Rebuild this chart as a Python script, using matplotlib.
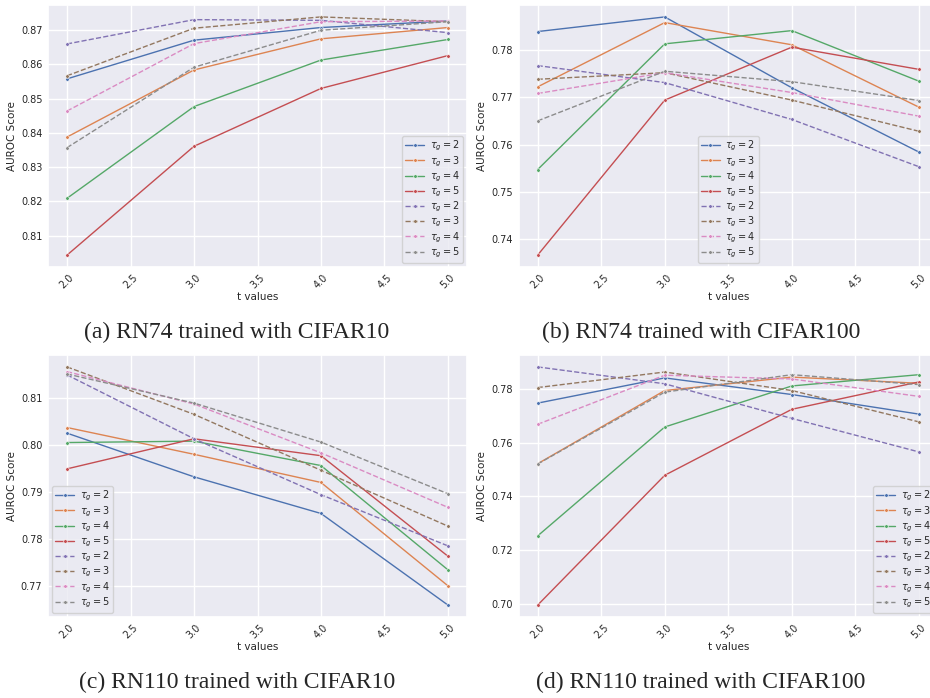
import matplotlib
matplotlib.use('Agg')
import matplotlib.pyplot as plt
import seaborn as sns

sns.set_theme(style='darkgrid')
plt.rcParams['font.family'] = ['DejaVu Sans']

t_values = [2.0, 3.0, 4.0, 5.0]
tau_labels = [r'$\tau_g = 2$', r'$\tau_g = 3$', r'$\tau_g = 4$', r'$\tau_g = 5$']

# (a) RN74 / CIFAR10
rn74_c10_solid = [
    [0.8558, 0.8671, 0.8708, 0.8727],
    [0.8388, 0.8584, 0.8675, 0.8708],
    [0.8209, 0.8477, 0.8613, 0.8673],
    [0.8043, 0.8361, 0.8530, 0.8626],
]
rn74_c10_dashed = [
    [0.8660, 0.8731, 0.8729, 0.8693],
    [0.8567, 0.8706, 0.8739, 0.8725],
    [0.8464, 0.8661, 0.8725, 0.8727],
    [0.8357, 0.8592, 0.8700, 0.8725],
]

# (b) RN74 / CIFAR100
rn74_c100_solid = [
    [0.7839, 0.7870, 0.7720, 0.7584],
    [0.7722, 0.7858, 0.7811, 0.7679],
    [0.7547, 0.7813, 0.7841, 0.7734],
    [0.7366, 0.7694, 0.7806, 0.7759],
]
rn74_c100_dashed = [
    [0.7767, 0.7731, 0.7653, 0.7553],
    [0.7738, 0.7752, 0.7694, 0.7628],
    [0.7708, 0.7752, 0.7710, 0.7660],
    [0.7650, 0.7755, 0.7733, 0.7693],
]

# (c) RN110 / CIFAR10
rn110_c10_solid = [
    [0.8025, 0.7932, 0.7854, 0.7659],
    [0.8037, 0.7980, 0.7920, 0.7700],
    [0.8005, 0.8008, 0.7956, 0.7734],
    [0.7949, 0.8013, 0.7977, 0.7763],
]
rn110_c10_dashed = [
    [0.8149, 0.8013, 0.7894, 0.7785],
    [0.8166, 0.8065, 0.7946, 0.7827],
    [0.8156, 0.8087, 0.7983, 0.7867],
    [0.8151, 0.8089, 0.8006, 0.7896],
]

# (d) RN110 / CIFAR100
rn110_c100_solid = [
    [0.7748, 0.7842, 0.7780, 0.7707],
    [0.7522, 0.7795, 0.7845, 0.7822],
    [0.7253, 0.7659, 0.7812, 0.7854],
    [0.6995, 0.7479, 0.7725, 0.7827],
]
rn110_c100_dashed = [
    [0.7883, 0.7820, 0.7691, 0.7566],
    [0.7806, 0.7864, 0.7795, 0.7678],
    [0.7669, 0.7852, 0.7838, 0.7773],
    [0.7521, 0.7789, 0.7854, 0.7817],
]

captions = [
    '(a) RN74 trained with CIFAR10',
    '(b) RN74 trained with CIFAR100',
    '(c) RN110 trained with CIFAR10',
    '(d) RN110 trained with CIFAR100',
]

W, H = 930, 698
fig = plt.figure(figsize=(W / 100, H / 100), dpi=100, facecolor='white')
colors = sns.color_palette('deep', 8)


def add_ax(left, top, right, bottom):
    return fig.add_axes([left / W, 1 - bottom / H, (right - left) / W, (bottom - top) / H])


panels = [
    (add_ax(48, 5, 467, 267), rn74_c10_solid, rn74_c10_dashed, 'lower right'),
    (add_ax(518.6, 5, 938, 267), rn74_c100_solid, rn74_c100_dashed, 'lower center'),
    (add_ax(48, 355, 467, 617), rn110_c10_solid, rn110_c10_dashed, 'lower left'),
    (add_ax(518.6, 355, 938, 617), rn110_c100_solid, rn110_c100_dashed, 'lower right'),
]

for ax, solid, dashed, loc in panels:
    for i, ys in enumerate(solid):
        ax.plot(t_values, ys, color=colors[i], lw=1.0, ls='-', marker='o', ms=2.6,
                mec='white', mew=0.4, label=tau_labels[i])
    for i, ys in enumerate(dashed):
        ax.plot(t_values, ys, color=colors[4 + i], lw=1.0, ls='--', marker='o', ms=2.6,
                mec='white', mew=0.4, label=tau_labels[i])
    ax.set_xlim(1.85, 5.15)
    ax.set_xticks([2.0, 2.5, 3.0, 3.5, 4.0, 4.5, 5.0])
    ax.tick_params(axis='both', labelsize=7, pad=4, length=0)
    for lab in ax.get_xticklabels():
        lab.set_rotation(45)
    ax.set_xlabel('t values', fontsize=7.5, labelpad=1)
    ax.set_ylabel('AUROC Score', fontsize=7.5, labelpad=3)
    ax.legend(loc=loc, fontsize=7, handlelength=1.9, labelspacing=0.08,
              borderpad=0.35, handletextpad=0.6, borderaxespad=0.4)

cap_pos = [(237, 332), (701, 332), (237, 682), (701, 682)]
for (cx, cy), txt in zip(cap_pos, captions):
    fig.text(cx / W, 1 - cy / H, txt, ha='center', va='center',
             family='Liberation Serif', fontsize=17)

fig.savefig('out.png', dpi=100, facecolor='white')
